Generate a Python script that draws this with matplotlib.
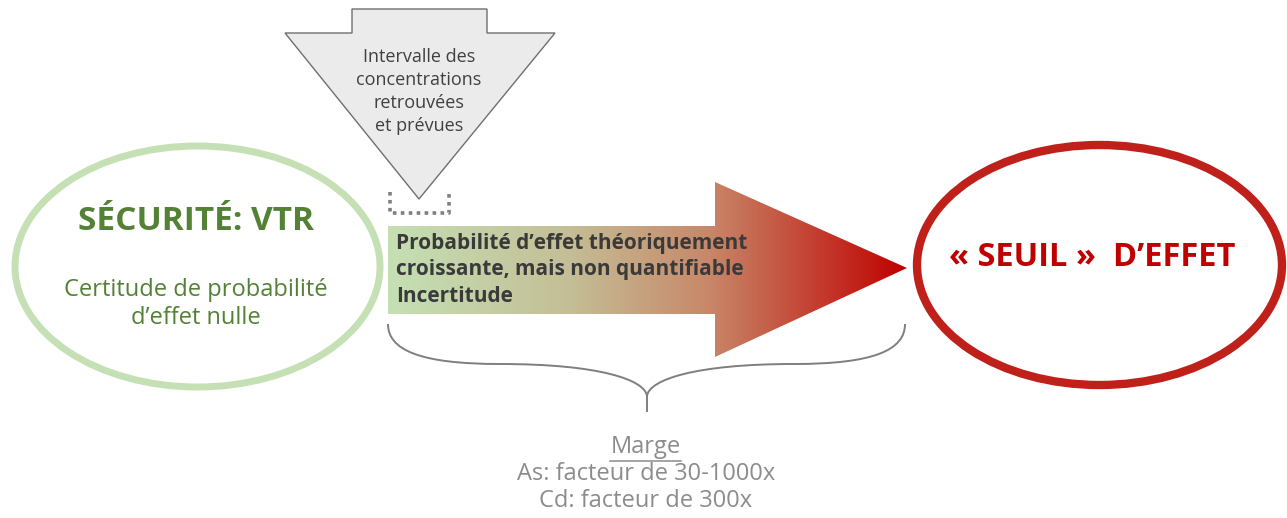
import numpy as np
import matplotlib
matplotlib.use("Agg")
import matplotlib.pyplot as plt
from matplotlib.patches import Ellipse, Polygon, PathPatch
from matplotlib.path import Path
from matplotlib.colors import LinearSegmentedColormap

plt.rcParams['font.family'] = ['Open Sans', 'DejaVu Sans']

# ---- text content ----
left_title = "SÉCURITÉ: VTR"
left_sub = ["Certitude de probabilité", "d\u2019effet nulle"]
right_title = "\u00ab SEUIL \u00bb  D\u2019EFFET"
down_arrow_lines = ["Intervalle des", "concentrations", "retrouvées", "et prévues"]
arrow_lines = ["Probabilité d\u2019effet théoriquement",
               "croissante, mais non quantifiable",
               "Incertitude"]
marge_title = "Marge"
marge_lines = ["As: facteur de 30-1000x", "Cd: facteur de 300x"]

# colours
green_light = "#c5e0b4"
green_dark = "#538135"
red = "#c00000"
red_edge = "#c0201a"
grey_text = "#8c8c8c"
dark_text = "#3a3a3a"
gradient_stops = [(0.0, (0.773, 0.878, 0.706)),
                  (0.35, (0.769, 0.745, 0.588)),
                  (0.62, (0.784, 0.53, 0.41)),
                  (1.0, (0.753, 0.0, 0.0))]

W, H = 1287, 518
fig = plt.figure(figsize=(W / 100, H / 100), dpi=100)
ax = fig.add_axes([0, 0, 1, 1])
ax.set_xlim(0, W)
ax.set_ylim(H, 0)
ax.axis('off')

# left ellipse
ax.add_patch(Ellipse((197.5, 266.5), 365, 241, fill=False, ec=green_light, lw=5))
ax.text(196, 222, left_title, ha='center', va='center', fontsize=24,
        fontweight='bold', color=green_dark)
for i, s in enumerate(left_sub):
    ax.text(196, 290 + i * 28, s, ha='center', va='center', fontsize=17,
            color=green_dark)

# right ellipse
ax.add_patch(Ellipse((1099.5, 265), 365, 240, fill=False, ec=red_edge, lw=6))
ax.text(1092, 258, right_title, ha='center', va='center', fontsize=23.5,
        fontweight='bold', color=red)

# down arrow (grey)
down_pts = [(352, 9), (487, 9), (487, 33), (555, 33), (419, 199),
            (285, 33), (352, 33)]
ax.add_patch(Polygon(down_pts, closed=True, fc="#ebebeb", ec="#6f6f6f", lw=1.0))
for i, s in enumerate(down_arrow_lines):
    ax.text(419, 57 + i * 23, s, ha='center', va='center', fontsize=13,
            color="#404040")

# dotted bracket
ax.plot([390, 390, 449, 449], [192, 213, 213, 192], color="#7f7f7f", lw=2.6,
        linestyle=(0, (1, 1.2)), dash_capstyle='butt', solid_joinstyle='miter')

# gradient arrow
arrow_pts = [(388, 226), (715, 226), (715, 182), (907, 268), (715, 357),
             (715, 314), (388, 314)]
poly = Polygon(arrow_pts, closed=True, fc='none', ec='none')
ax.add_patch(poly)
cmap = LinearSegmentedColormap.from_list('g', gradient_stops)
grad = np.linspace(0, 1, 512).reshape(1, -1)
im = ax.imshow(grad, cmap=cmap, extent=(388, 907, 357, 182), aspect='auto',
               interpolation='bilinear', zorder=1)
im.set_clip_path(poly)
ax.set_xlim(0, W)
ax.set_ylim(H, 0)
for i, s in enumerate(arrow_lines):
    ax.text(396, 243 + i * 27, s, ha='left', va='center', fontsize=15,
            fontweight='bold', color=dark_text, zorder=3)

# brace
verts = [(388, 324), (388, 350), (420, 364), (500, 364),
         (600, 364), (645, 380), (647, 396),
         (647, 412),
         (647, 396),
         (649, 380), (694, 364), (794, 364),
         (874, 364), (905, 350), (905, 324)]
codes = [Path.MOVETO, Path.CURVE4, Path.CURVE4, Path.CURVE4,
         Path.CURVE4, Path.CURVE4, Path.CURVE4,
         Path.LINETO,
         Path.MOVETO,
         Path.CURVE4, Path.CURVE4, Path.CURVE4,
         Path.CURVE4, Path.CURVE4, Path.CURVE4]
ax.add_patch(PathPatch(Path(verts, codes), fill=False, ec="#7f7f7f", lw=1.4))

# marge text
ax.text(646, 447, marge_title, ha='center', va='center', fontsize=17,
        color=grey_text)
ax.plot([610, 681], [461, 461], color=grey_text, lw=1.1)
for i, s in enumerate(marge_lines):
    ax.text(646, 474 + i * 27, s, ha='center', va='center', fontsize=17,
            color=grey_text)

fig.savefig("out.png", dpi=100)
